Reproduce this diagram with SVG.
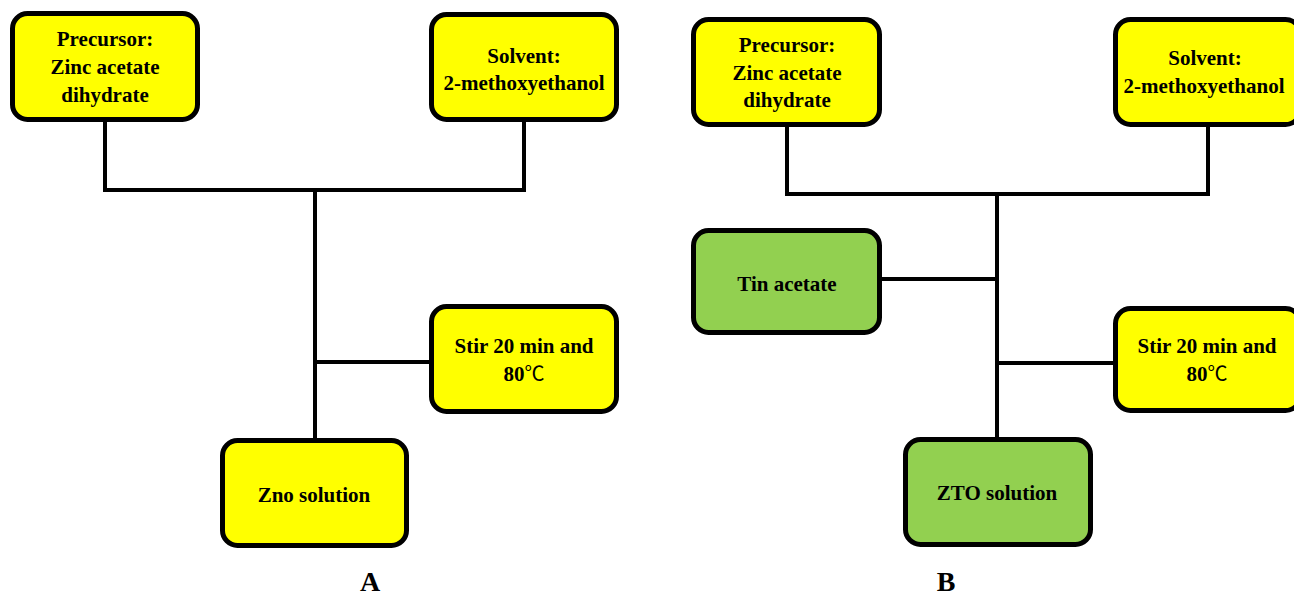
<svg xmlns="http://www.w3.org/2000/svg" width="1294" height="596" viewBox="0 0 1294 596">
<style>
.box{stroke:#000;stroke-width:5}
.y{fill:#FFFF00}
.g{fill:#92D050}
.t{font-family:'Times New Roman','Liberation Serif','DejaVu Serif',serif;font-weight:700;font-size:21px;fill:#000;text-anchor:middle}
.deg{font-family:'Noto Sans CJK SC','DejaVu Sans',sans-serif;font-weight:400;font-size:20px}
.lbl{font-family:'Times New Roman','Liberation Serif','DejaVu Serif',serif;font-weight:700;font-size:28px;fill:#000;text-anchor:middle}
.c{stroke:#000;stroke-width:4;fill:none}
</style>
<rect width="1294" height="596" fill="#fff"/>
<g id="connectors">
<polyline class="c" points="105,122 105,190 524,190 524,122"/>
<line class="c" x1="315" y1="190" x2="315" y2="438"/>
<line class="c" x1="315" y1="362" x2="431" y2="362"/>
<polyline class="c" points="787,127 787,194 1208,194 1208,127"/>
<line class="c" x1="997" y1="194" x2="997" y2="437"/>
<line class="c" x1="882" y1="279" x2="997" y2="279"/>
<line class="c" x1="997" y1="363" x2="1114" y2="363"/>
</g>
<g id="a-precursor">
<rect class="box y" x="12.5" y="13.5" width="185" height="106" rx="15"/>
<text class="t" x="105" y="46">Precursor:</text>
<text class="t" x="105" y="74">Zinc acetate</text>
<text class="t" x="105" y="102">dihydrate</text>
</g>
<g id="a-solvent">
<rect class="box y" x="431.5" y="14.5" width="185" height="105" rx="15"/>
<text class="t" x="524" y="63">Solvent:</text>
<text class="t" x="524" y="90">2-methoxyethanol</text>
</g>
<g id="a-stir">
<rect class="box y" x="431.5" y="306.5" width="185" height="105" rx="15"/>
<text class="t" x="524" y="353">Stir 20 min and</text>
<text class="t" x="524" y="381">80<tspan class="deg">℃</tspan></text>
</g>
<g id="a-zno">
<rect class="box y" x="222.5" y="440.5" width="184" height="105" rx="15"/>
<text class="t" x="314" y="502">Zno solution</text>
</g>
<g id="b-precursor">
<rect class="box y" x="693.5" y="19.5" width="186" height="105" rx="15"/>
<text class="t" x="787" y="52">Precursor:</text>
<text class="t" x="787" y="80">Zinc acetate</text>
<text class="t" x="787" y="107">dihydrate</text>
</g>
<g id="b-solvent">
<rect class="box y" x="1115.5" y="19.5" width="185" height="105" rx="15"/>
<text class="t" x="1205" y="65">Solvent:</text>
<text class="t" x="1204" y="93">2-methoxyethanol</text>
</g>
<g id="b-tin">
<rect class="box g" x="693.5" y="230.5" width="186" height="102" rx="15"/>
<text class="t" x="787" y="291">Tin acetate</text>
</g>
<g id="b-stir">
<rect class="box y" x="1115.5" y="308.5" width="185" height="102" rx="15"/>
<text class="t" x="1207" y="353">Stir 20 min and</text>
<text class="t" x="1207" y="381">80<tspan class="deg">℃</tspan></text>
</g>
<g id="b-zto">
<rect class="box g" x="905.5" y="439.5" width="185" height="105" rx="15"/>
<text class="t" x="997" y="500">ZTO solution</text>
</g>
<g id="labels">
<text class="lbl" x="370" y="591">A</text>
<text class="lbl" x="946" y="591">B</text>
</g>
</svg>
